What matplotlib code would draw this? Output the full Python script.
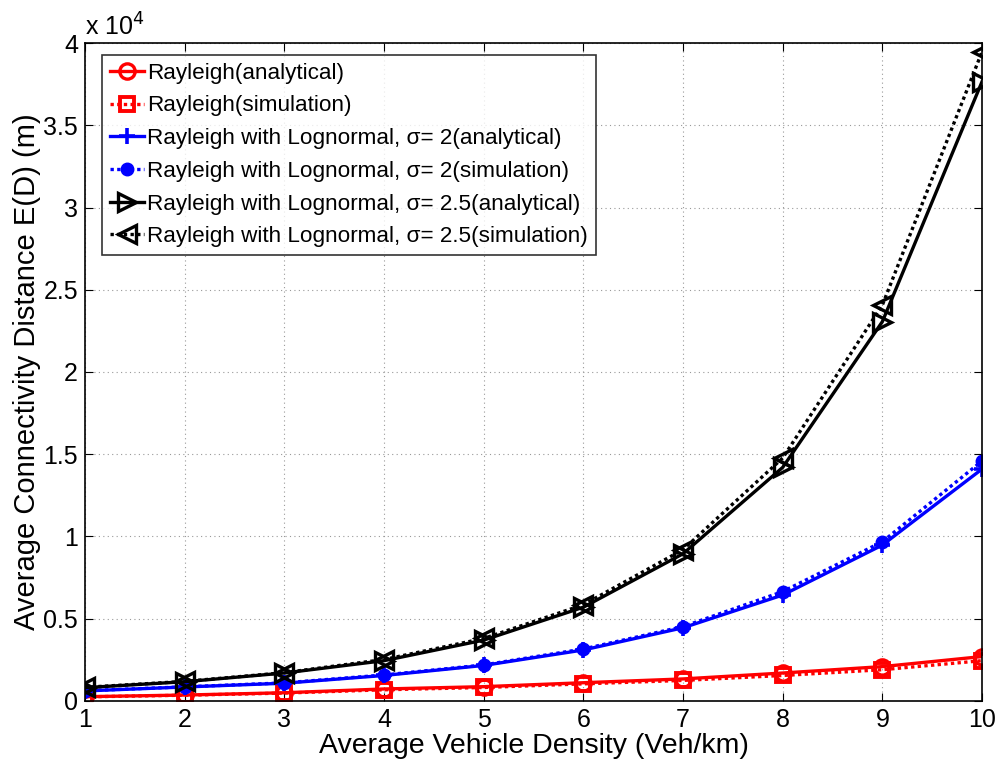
import matplotlib
matplotlib.use("Agg")
import matplotlib.pyplot as plt
import numpy as np

plt.rcParams["font.family"] = ["Liberation Sans", "DejaVu Sans"]

density = [1, 2, 3, 4, 5, 6, 7, 8, 9, 10]

# average connectivity distance, metres
rayleigh_ana = [260, 360, 500, 730, 870, 1110, 1340, 1700, 2090, 2700]
rayleigh_sim = [250, 350, 480, 680, 820, 1040, 1250, 1550, 1900, 2450]
logn2_ana = [610, 850, 1080, 1550, 2160, 3100, 4450, 6440, 9480, 14100]
logn2_sim = [620, 860, 1100, 1580, 2190, 3160, 4520, 6650, 9680, 14590]
logn25_ana = [810, 1170, 1700, 2450, 3700, 5700, 8950, 14200, 23060, 37650]
logn25_sim = [830, 1190, 1720, 2520, 3800, 5850, 9200, 14770, 24070, 39470]

labels = [
    "Rayleigh(analytical)",
    "Rayleigh(simulation)",
    "Rayleigh with Lognormal, \u03c3= 2(analytical)",
    "Rayleigh with Lognormal, \u03c3= 2(simulation)",
    "Rayleigh with Lognormal, \u03c3= 2.5(analytical)",
    "Rayleigh with Lognormal, \u03c3= 2.5(simulation)",
]

SCALE = 1e4
dotted = (0, (1.0, 1.0))

fig = plt.figure(figsize=(9.98, 7.64), dpi=100)
ax = fig.add_axes([0.0852, 0.0825, 0.8988, 0.8612])

x = np.array(density)
ax.plot(x, np.array(rayleigh_ana) / SCALE, "-", color="red", lw=2.4,
        marker="o", ms=11, mfc="none", mew=2.4, label=labels[0])
ax.plot(x, np.array(rayleigh_sim) / SCALE, linestyle=dotted, color="red", lw=2.4,
        marker="s", ms=9.5, mfc="none", mew=2.8, label=labels[1])
ax.plot(x, np.array(logn2_ana) / SCALE, "-", color="blue", lw=2.4,
        marker="+", ms=12, mew=2.6, label=labels[2])
ax.plot(x, np.array(logn2_sim) / SCALE, linestyle=dotted, color="blue", lw=2.4,
        marker="o", ms=9, mfc="blue", mew=1, label=labels[3])
ax.plot(x, np.array(logn25_ana) / SCALE, "-", color="black", lw=2.4,
        marker=">", ms=13, mfc="none", mew=2.4, label=labels[4])
ax.plot(x, np.array(logn25_sim) / SCALE, linestyle=dotted, color="black", lw=2.4,
        marker="<", ms=13, mfc="none", mew=2.4, label=labels[5])

ax.set_xlim(1, 10)
ax.set_ylim(0, 4)
ax.set_xticks(density)
ax.set_yticks(np.arange(0, 4.01, 0.5))
ax.set_yticklabels(["0", "0.5", "1", "1.5", "2", "2.5", "3", "3.5", "4"])
ax.tick_params(direction="in", top=True, right=True, labelsize=18, length=6, pad=5)
ax.grid(True, color="#999999", linestyle=(0, (1, 3)), linewidth=0.8)
for s in ax.spines.values():
    s.set_linewidth(1.2)

ax.set_xlabel("Average Vehicle Density (Veh/km)", fontsize=20.5, labelpad=1)
ax.set_ylabel("Average Connectivity Distance E(D) (m)", fontsize=21, labelpad=2)
ax.text(0.0, 1.004, r"x 10$^{4}$", transform=ax.transAxes, fontsize=18,
        ha="left", va="bottom")

leg = ax.legend(loc="upper left", bbox_to_anchor=(0.019, 0.982), fontsize=16.2,
                frameon=True, fancybox=False, edgecolor="black",
                handlelength=1.5, handletextpad=0.15, borderpad=0.35,
                labelspacing=0.52, borderaxespad=0)
leg.get_frame().set_linewidth(1.2)

fig.savefig("out.png", dpi=100)
